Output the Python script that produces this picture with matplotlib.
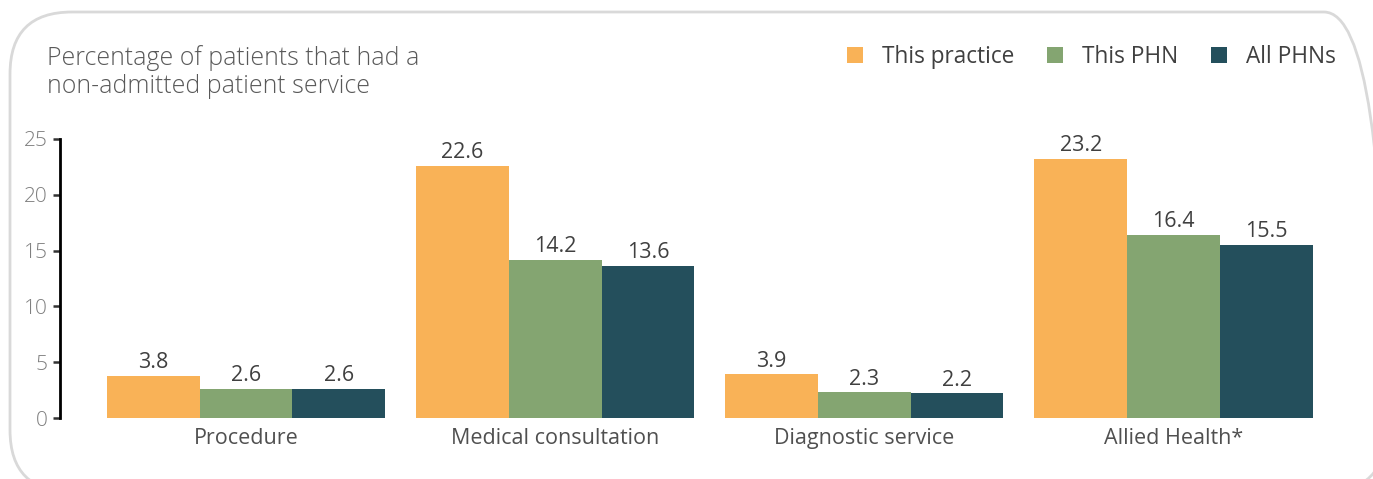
import matplotlib
matplotlib.use("Agg")
import matplotlib.pyplot as plt
import numpy as np
from matplotlib.patches import FancyBboxPatch, Patch

categories = ["Procedure", "Medical consultation", "Diagnostic service", "Allied Health*"]
series_names = ["This practice", "This PHN", "All PHNs"]
this_practice = [3.8, 22.6, 3.9, 23.2]
this_phn = [2.6, 14.2, 2.3, 16.4]
all_phns = [2.6, 13.6, 2.2, 15.5]
colors = ["#F9B257", "#84A571", "#244F5C"]
yticks = [0, 5, 10, 15, 20, 25]

plt.rcParams['font.family'] = ['Open Sans', 'DejaVu Sans']

W, H = 1373, 479
fig = plt.figure(figsize=(W/100, H/100), dpi=100)

# rounded border
bl, bt, br, bb = 10, 12, 1386, 492
border = FancyBboxPatch((bl/100, (H - bb)/100), (br - bl)/100, (bb - bt)/100,
                        boxstyle="round,pad=0,rounding_size=0.62",
                        transform=fig.dpi_scale_trans, fill=False,
                        edgecolor="#D9D9D9", linewidth=2, zorder=0)
fig.patches.append(border)

ax_left, ax_right = 60, 1328
ax_bottom, ax_top = 418, 139
ax = fig.add_axes([ax_left/W, 1 - ax_bottom/H, (ax_right-ax_left)/W, (ax_bottom-ax_top)/H])

x = np.arange(len(categories))
bw = 0.3
data = [this_practice, this_phn, all_phns]
for i, (vals, c, name) in enumerate(zip(data, colors, series_names)):
    bars = ax.bar(x + (i-1)*bw, vals, width=bw, color=c, label=name)
    for b, v in zip(bars, vals):
        ax.text(b.get_x() + b.get_width()/2, v + 0.25, f"{v:.1f}", ha="center", va="bottom",
                fontsize=15.5, color="#404040")

ax.set_xlim(-0.602, 3.5)
ax.set_ylim(0, 25)
ax.set_yticks(yticks)
ax.set_xticks(x)
ax.set_xticklabels(categories, fontsize=15.5, color="#505050")
ax.tick_params(axis="x", length=0, pad=7)
ax.tick_params(axis="y", length=5, width=1.8, color="#333333", labelsize=15, labelcolor="#7F7F7F", pad=4)
for lbl in ax.get_yticklabels():
    lbl.set_fontweight("light")
for s in ["top", "right", "bottom"]:
    ax.spines[s].set_visible(False)
ax.spines["left"].set_linewidth(2)
ax.spines["left"].set_color("black")

fig.text(47/W, 1 - 72/H, "Percentage of patients that had a\nnon-admitted patient service",
         ha="left", va="center", fontsize=17.9, color="#595959", linespacing=1.2,
         fontweight="light")

handles = [Patch(facecolor=c, edgecolor="none") for c in colors]
fig.legend(handles, series_names, loc="center right", bbox_to_anchor=(1336/W, 1 - 57/H),
           ncol=3, frameon=False, fontsize=16.3, handlelength=0.7, handleheight=0.7,
           handletextpad=0.85, columnspacing=1.45, labelcolor="#404040", borderaxespad=0,
           borderpad=0)

fig.savefig("out.png", dpi=100)
